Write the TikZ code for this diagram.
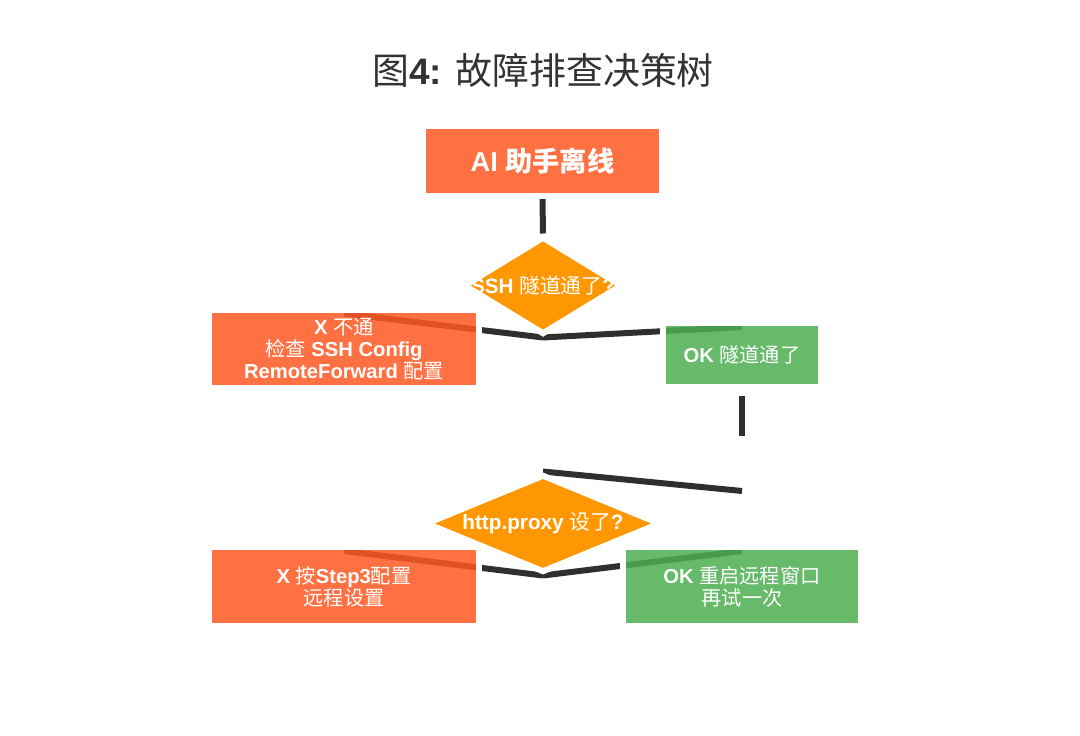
\documentclass[tikz,border=0pt]{standalone}
\usepackage{fontspec}
\setmainfont{Liberation Sans}
\newfontfamily\cjk{Noto Sans CJK SC}
\usepackage{xcolor}
\usetikzlibrary{shapes.geometric,backgrounds}
\definecolor{TreeRed}{HTML}{FF5722}
\definecolor{TreeGreen}{HTML}{4CAF50}
\definecolor{TreeAmber}{HTML}{FF9800}
\definecolor{TreeInk}{HTML}{2F2F2F}
\definecolor{TreeTitle}{HTML}{333333}
\newcommand{\zh}[1]{{\cjk\mdseries #1}}
\newcommand{\zhb}[1]{{\cjk\bfseries #1}}

\begin{document}
\begin{tikzpicture}[x=0.02cm,y=-0.02cm,
 box/.style={draw=white,line width=0.12cm,fill opacity=0.85,text opacity=1,text=white,align=center,inner sep=2pt,font=\bfseries\fontsize{11.5}{12.5}\selectfont},
 fail/.style={box,fill=TreeRed,minimum width=5.4cm,minimum height=1.58cm},
 pass/.style={box,fill=TreeGreen,minimum height=1.58cm},
 ask/.style={diamond,draw=white,line width=0.12cm,fill=TreeAmber,text=white,inner sep=0pt,minimum height=1.96cm,font=\bfseries\fontsize{11.8}{13}\selectfont},
 link/.style={draw=TreeInk,line width=0.12cm},
 heading/.style={text=TreeTitle,font=\fontsize{21}{25}\selectfont}]
\node[heading] (head) at (543,70) {\zh{图}\textbf{4:} \zh{故障排查决策树}};
\node[box,fill=TreeRed,minimum width=4.78cm,minimum height=1.4cm,font=\bfseries\fontsize{15.5}{17}\selectfont] (offline) at (542.5,161) {AI \zhb{助手离线}};
\node[ask,minimum width=3.18cm] (tunnel) at (543,285.5) {\makebox[0pt]{SSH \zh{隧道通了}?}};
\node[fail] (tunnelno) at (344,349) {X \zh{不通}\\\zh{检查} SSH Config\\RemoteForward \zh{配置}};
\node[pass,minimum width=3.16cm,minimum height=1.28cm] (tunnelok) at (742,355) {OK \zh{隧道通了}};
\node[ask,minimum width=4.7cm] (proxy) at (543,523.5) {\makebox[0pt]{http.proxy \zh{设了}?}};
\node[fail] (proxyno) at (344,586.5) {X \zh{按}Step3\zh{配置}\\\zh{远程设置}};
\node[pass,minimum width=4.76cm] (proxyok) at (742,586.5) {OK \zh{重启远程窗口}\\\zh{再试一次}};
\coordinate (drop) at (742,436);
\coordinate (turn) at (742,491);
\begin{scope}[on background layer]
\fill[white] (0,0) rectangle (1080,736);
\draw[link] (offline.south) -- (tunnel.north);
\draw[link] (tunnel.south) -- ([yshift=-0.14cm]tunnelno.north);
\draw[link] (tunnel.south) -- ([yshift=-0.14cm]tunnelok.north);
\draw[link,shorten <=0.12cm] (tunnelok.south) -- (drop);
\draw[link] (turn) -- (proxy.north);
\draw[link] (proxy.south) -- ([yshift=-0.14cm]proxyno.north);
\draw[link] (proxy.south) -- ([yshift=-0.14cm]proxyok.north);
\end{scope}
\useasboundingbox (0,0) rectangle (1080,736);
\end{tikzpicture}
\end{document}
